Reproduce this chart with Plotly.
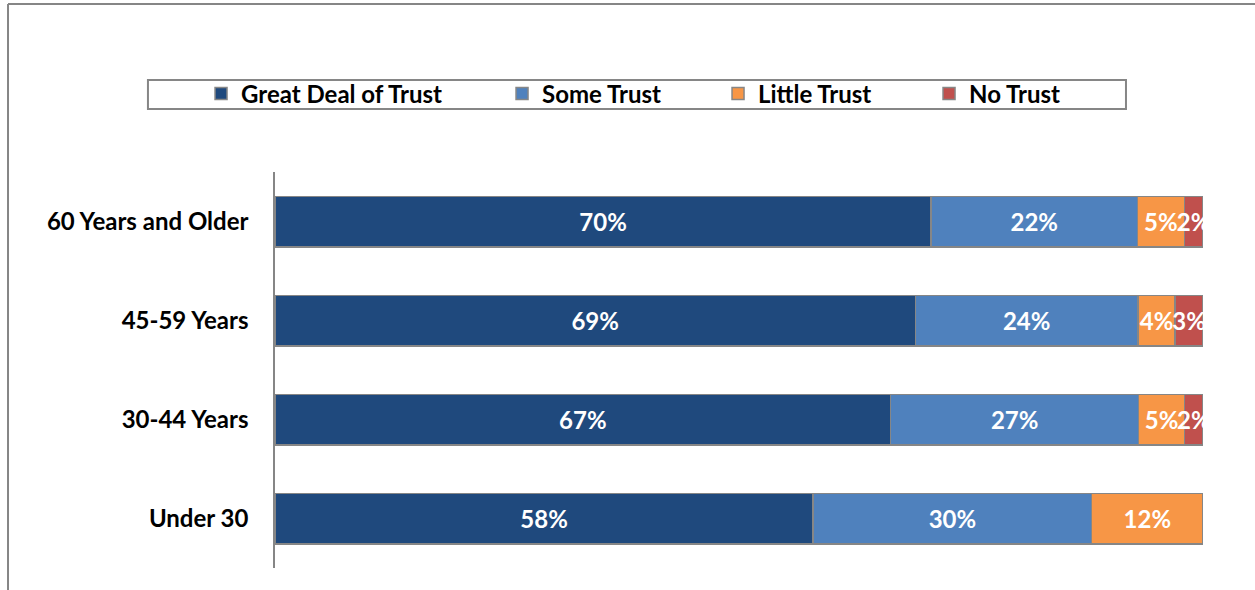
import plotly.graph_objects as go

# Age groups, listed top to bottom
groups = ["60 Years and Older", "45-59 Years", "30-44 Years", "Under 30"]

# Share of respondents per trust level (%)
great_deal = [70, 69, 67, 58]
some = [22, 24, 27, 30]
little = [5, 4, 5, 12]
no_trust = [2, 3, 2, 0]

series = [
    ("Great Deal of Trust", great_deal, "#1F497D", 256),
    ("Some Trust", some, "#4F81BD", 171),
    ("Little Trust", little, "#F79646", 166),
    ("No Trust", no_trust, "#C0504D", 110),
]

FONT = "Lato"
SIZE = 24

fig = go.Figure()
for name, vals, color, lw in series:
    fig.add_trace(go.Bar(
        name=name,
        y=groups,
        x=vals,
        orientation="h",
        marker=dict(color=color, line=dict(color="#868686", width=1.5)),
        text=[f"{v}%" if v > 0 else "" for v in vals],
        textposition="inside",
        insidetextanchor="middle",
        textangle=0,
        textfont=dict(family=FONT, size=SIZE, color="white", weight="bold"),
        cliponaxis=True,
        legendwidth=lw,
        hoverinfo="skip",
    ))

fig.update_layout(
    barmode="stack",
    barnorm="percent",
    bargap=0.49,
    width=1255,
    height=590,
    margin=dict(l=275, r=52, t=172, b=22),
    paper_bgcolor="white",
    plot_bgcolor="white",
    font=dict(family=FONT, size=SIZE, color="black"),
    uniformtext=dict(minsize=SIZE, mode="show"),
    showlegend=True,
    legend=dict(
        orientation="h",
        x=-0.0797, xanchor="left",
        y=1.197, yanchor="middle",
        font=dict(family=FONT, size=SIZE, color="black", weight="bold"),
        bgcolor="rgba(0,0,0,0)",
        borderwidth=0,
        traceorder="normal",
    ),
    xaxis=dict(range=[0, 100], visible=False, fixedrange=True),
    yaxis=dict(
        range=[3.5, -0.5],
        showline=True,
        linecolor="#868686",
        linewidth=1.5,
        showgrid=False,
        ticks="",
        ticklabelstandoff=20,
        tickfont=dict(family=FONT, size=SIZE, color="black", weight="bold"),
        fixedrange=True,
    ),
    shapes=[
        # legend frame
        dict(type="rect", xref="paper", yref="paper",
             x0=-0.1369, x1=0.917, y0=1.159, y1=1.2323,
             line=dict(color="#868686", width=2), fillcolor="rgba(0,0,0,0)", layer="below"),
        # chart frame: top and left edges
        dict(type="line", xref="paper", yref="paper",
             x0=-0.2877, x1=1.06, y0=1.4242, y1=1.4242,
             line=dict(color="#868686", width=2)),
        dict(type="line", xref="paper", yref="paper",
             x0=-0.2877, x1=-0.2877, y0=1.4242, y1=-0.06,
             line=dict(color="#868686", width=2)),
    ],
)

fig.write_html("out.html")
